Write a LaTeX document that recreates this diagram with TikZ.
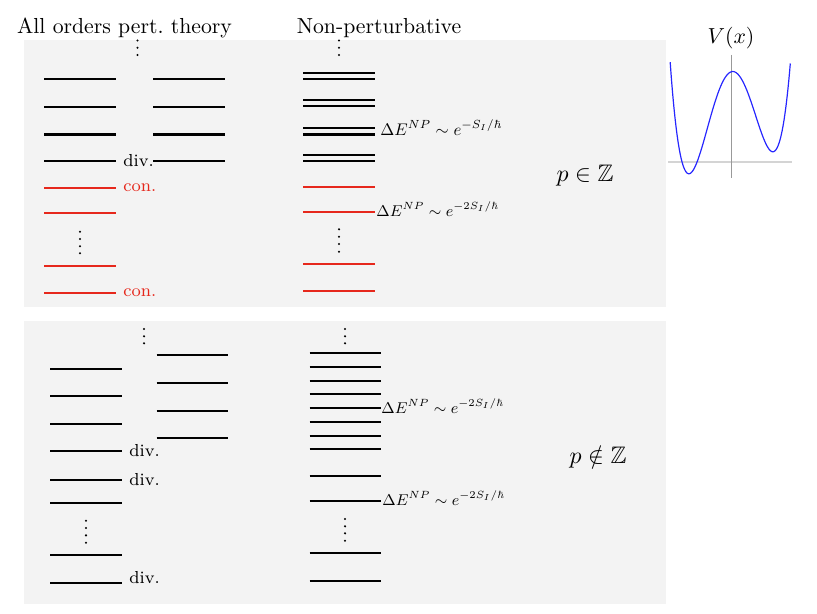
\documentclass[tikz,border=0pt]{standalone}
\usepackage{amssymb}
\usepackage{graphicx}
\definecolor{lvred}{RGB}{230,40,28}
\definecolor{panel}{RGB}{243,243,243}
\newcommand{\enbig}[1]{\scalebox{0.775}{#1}}
\newcommand{\ensmall}[1]{\scalebox{0.8}{\small #1}}
\begin{document}
\begin{tikzpicture}[x=0.46pt,y=-0.46pt,
  lvl/.style={line width=1.1pt,black},
  redlvl/.style={line width=1.1pt,lvred},
  lab/.style={font=\footnotesize,inner sep=0pt,anchor=west},
  title/.style={font=\normalsize,inner sep=0pt,anchor=base},
  enp/.style={inner sep=0pt,anchor=base west},
  cond/.style={font=\fontsize{11}{13}\selectfont,inner sep=0pt},
  dot/.style={fill=black}]
\useasboundingbox (0,0) rectangle (817,613);
% panels
\fill[panel] (24,40) rectangle (666,307);
\fill[panel] (24,321) rectangle (666,604);
% titles
\node[title] (t1) at (124.5,34) {All orders pert.\ theory};
\node[title] (t2) at (379,34) {Non-perturbative};
% ---------- top panel ----------
\foreach \y in {79,107,134.5,161} \draw[lvl] (44,\y) -- (115.5,\y);
\foreach \y in {188,213,266,293} \draw[redlvl] (44,\y) -- (115.5,\y);
\foreach \y in {79,107,134.5,161} \draw[lvl] (153,\y) -- (225,\y);
\foreach \y in {73,79,100,106,128,134.5,155,161} \draw[lvl] (303,\y) -- (375,\y);
\foreach \y in {187,212,264,291} \draw[redlvl] (303,\y) -- (375,\y);
\foreach \y in {40.5,47.8,55} \fill[dot] (137.5,\y) circle (0.55pt);
\foreach \y in {40.5,47.8,55} \fill[dot] (339,\y) circle (0.55pt);
\foreach \y in {231.7,239,246.3,253.3} \fill[dot] (80,\y) circle (0.55pt);
\foreach \y in {229.3,236.7,244,251.7} \fill[dot] (339,\y) circle (0.55pt);
\node[lab] (d1) at (123,161) {div.};
\node[lab,text=lvred] (c1) at (123,188) {con.};
\node[lab,text=lvred] (c2) at (123,293) {con.};
\node[enp] (e1) at (380,135) {\enbig{$\Delta E^{NP}\sim e^{-S_I/\hbar}$}};
\node[enp] (e2) at (376,216) {\ensmall{$\Delta E^{NP}\sim e^{-2S_I/\hbar}$}};
\node[cond] (pz) at (585,176) {$p\in\mathbb{Z}$};
% ---------- bottom panel ----------
\foreach \y in {369,396,424,451,480,503,555,583} \draw[lvl] (50,\y) -- (122,\y);
\foreach \y in {355,383,411,438} \draw[lvl] (156.5,\y) -- (228,\y);
\foreach \y in {353,367,381,394,408,422,436,449,476,501,553,581} \draw[lvl] (309.5,\y) -- (381,\y);
\foreach \y in {329,336.3,343.3} \fill[dot] (144,\y) circle (0.55pt);
\foreach \y in {329,336.3,343.3} \fill[dot] (345,\y) circle (0.55pt);
\foreach \y in {520.7,528,535.3,542.7} \fill[dot] (86,\y) circle (0.55pt);
\foreach \y in {519,526.3,533.3,540.7} \fill[dot] (345,\y) circle (0.55pt);
\node[lab] (d2) at (129,451) {div.};
\node[lab] (d3) at (129,480) {div.};
\node[lab] (d4) at (129,578) {div.};
\node[enp] (e3) at (381,413) {\ensmall{$\Delta E^{NP}\sim e^{-2S_I/\hbar}$}};
\node[enp] (e4) at (382,505) {\ensmall{$\Delta E^{NP}\sim e^{-2S_I/\hbar}$}};
\node[cond] (pnz) at (598,457) {$p\notin\mathbb{Z}$};
% ---------- potential ----------
\draw[line width=0.9pt,black!17] (668,161.7) -- (791.7,161.7);
\draw[line width=0.4pt,black!40] (731.5,55) -- (731.5,178);
\draw[blue!85,line width=0.55pt] plot[domain=-1.46:1.40,samples=120,smooth]
  ({731.5+42*\x},{161.7-(91*(\x*\x-1)*(\x*\x-1)+11*\x-1)});
\node[title] (vx) at (731,44) {$V(x)$};
\end{tikzpicture}
\end{document}
